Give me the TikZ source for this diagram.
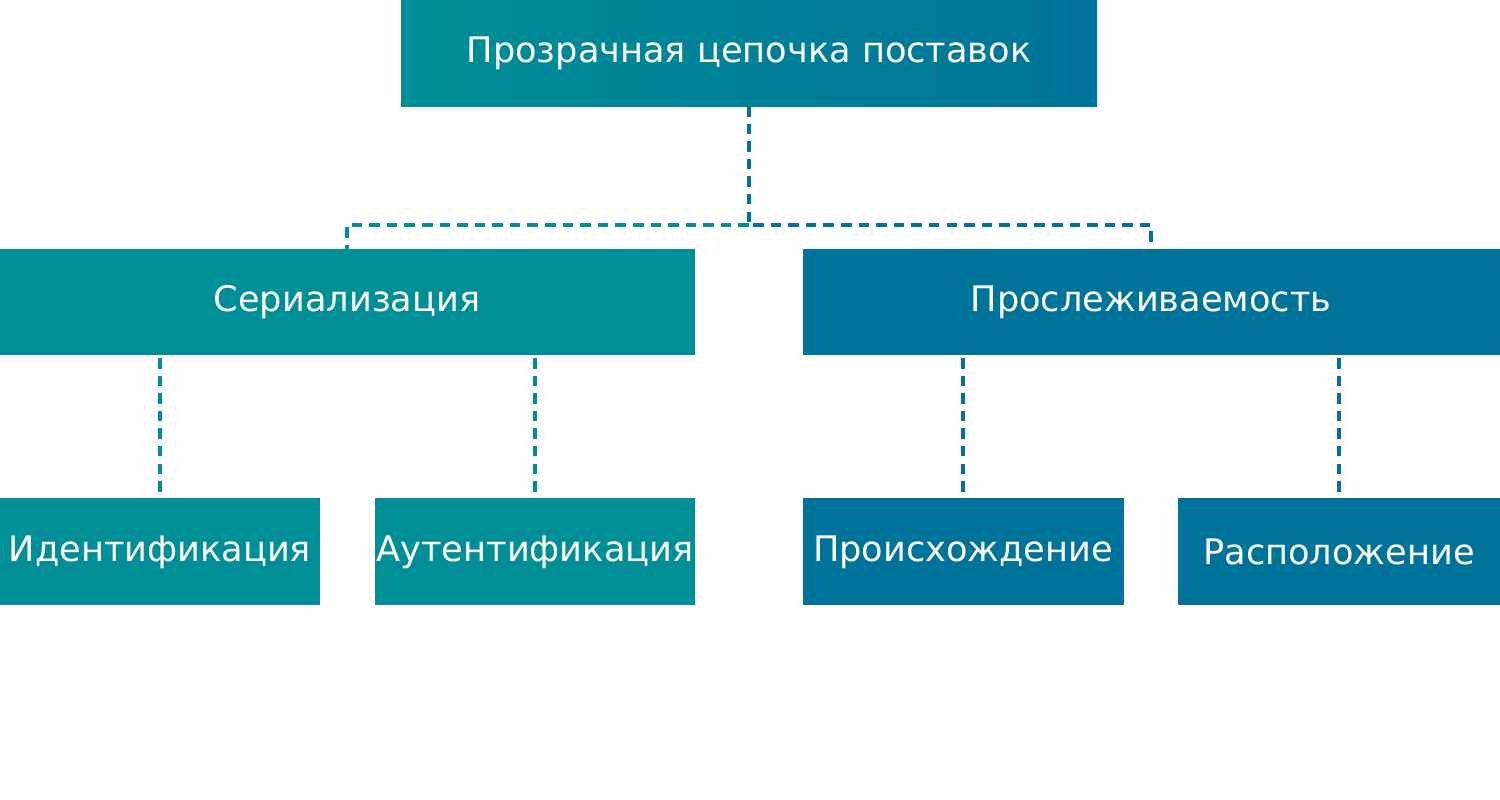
\documentclass[tikz,border=0pt]{standalone}
\usepackage{fontspec}
\setmainfont{DejaVu Sans}
\definecolor{teal1}{HTML}{008F96}
\definecolor{blue1}{HTML}{00739A}
\begin{document}
\begin{tikzpicture}[x=0.01cm,y=-0.01cm,
  box/.style={draw=none,inner sep=0,text=white,font=\fontsize{10}{12}\selectfont},
  conn/.style={dashed,line width=1.3pt,dash pattern=on 3pt off 2pt}]
\useasboundingbox (0,0) rectangle (1500,800);
\shade[left color=teal1,right color=blue1] (401,0) rectangle (1097,106);
\node[box] (top) at (749,53) {Прозрачная цепочка поставок};
\coordinate (topb) at (749,106);
\fill[teal1] (0,249) rectangle (695,355);
\node[box] (ser) at (347,302) {Сериализация};
\fill[blue1] (803,249) rectangle (1500,355);
\node[box] (tr) at (1151,302) {Прослеживаемость};
\fill[teal1] (0,498) rectangle (320,605);
\node[box] (id) at (160,552) {Идентификация};
\fill[teal1] (375,498) rectangle (695,605);
\node[box] (au) at (535,552) {Аутентификация};
\fill[blue1] (803,498) rectangle (1124,605);
\node[box] (pr) at (963,552) {Происхождение};
\fill[blue1] (1178,498) rectangle (1500,605);
\node[box] (ra) at (1339,552) {Расположение};
\coordinate (j) at (749,225);
\coordinate (serT) at (347,249);
\coordinate (trT) at (1151,249);
\draw[conn,blue1] (topb) -- (j) -| (trT);
\draw[conn,teal1] (j) -| (serT);
\draw[conn,teal1] (160,358) -- (160,498);
\draw[conn,teal1] (535,358) -- (535,498);
\draw[conn,blue1] (963,358) -- (963,498);
\draw[conn,blue1] (1339,358) -- (1339,498);
\end{tikzpicture}
\end{document}
